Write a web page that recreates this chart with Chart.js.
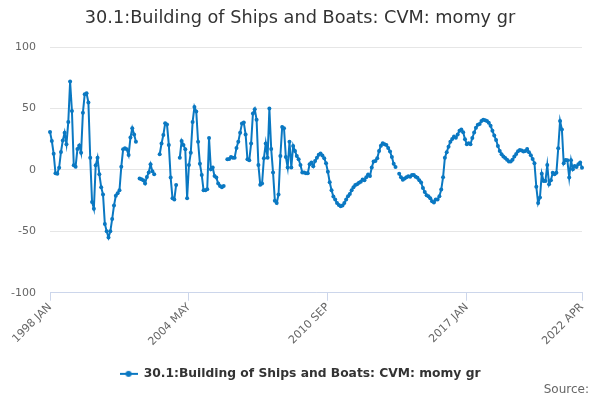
<!DOCTYPE html>
<html><head><meta charset="utf-8">
<script src="https://cdn.jsdelivr.net/npm/chart.js@4.4.1/dist/chart.umd.min.js"></script>
<style>html,body{margin:0;padding:0;background:#fff}</style>
</head><body>
<canvas id="c" width="600" height="400"></canvas>
<script>
const TITLE = '30.1:Building of Ships and Boats: CVM: momy gr';
const SERIES_NAME = '30.1:Building of Ships and Boats: CVM: momy gr';
const SOURCE_TEXT = 'Source:';
const START_YEAR = 1998;
const MONTH_NAMES = ['JAN','FEB','MAR','APR','MAY','JUN','JUL','AUG','SEP','OCT','NOV','DEC'];
const N_MONTHS = 292; // 1998 JAN .. 2022 APR
const categories = [];
for (let i = 0; i < N_MONTHS; i++) categories.push((START_YEAR + Math.floor(i / 12)) + ' ' + MONTH_NAMES[i % 12]);

const values = [
  31, 23.6, 13.3, -2.7, -3, 1.9, 14.7, 24, 30.4, 21, 39, 72,          // 1998
  48, 3.8, 2.7, 17, 20, 14, 46.7, 61.7, 62.5, 55, 10, -26,            // 1999
  -31.5, 3.8, 10, -3.5, -14, -20, -44, -50, -55, -50, -40, -29,       // 2000
  -21, -19, -16.6, 2.7, 16.8, 17.7, 16.8, 12.2, 26.4, 34, 29, 23,     // 2001
  null, -7, -7.6, -8.4, -11, -5.7, -2, 4.6, -1, -3.5, null, null,     // 2002
  12.8, 21.5, 28.5, 38, 37, 20.4, -6.2, -23, -24, -12.2, null, 10,    // 2003
  23.6, 20.4, 16.8, -23, 4, 14, 39, 51.4, 47.6, 23, 5, -4,            // 2004
  -16.6, -16.6, -15.7, 26, 0.5, 2, -5, -6.2, -11, -13, -14, -13,      // 2005
  null, 8.8, 9, 10.6, 10, 10, 18, 23, 30.4, 37.8, 38.6, 29,           // 2006
  8.7, 7.9, 21.5, 46, 49.5, 41, 4, -12, -11, 9.5, 21.5, 10,           // 2007
  50, 17, -2, -25, -27, -20, 11.4, 35, 34, 10.6, 2, 23,               // 2008
  2, 19.6, 15.5, 11.4, 8.7, 4, -2, -2, -2.7, -2.7, 4.6, 6,            // 2009
  3, 7.4, 10, 12.4, 13.5, 11.8, 9.5, 5.5, -1.5, -10, -16.5, -21.7,    // 2010
  -24, -27, -28.5, -29.5, -29, -27, -24, -21.5, -19.5, -16.5, -14, -12.2, // 2011
  -11.6, -10.4, -9.6, -7.8, -8.3, -6, -3.6, -5, 2, 7, 7.4, 9.5,       // 2012
  15.5, 19.8, 21.7, 21, 20.3, 17.9, 15, 10.5, 5, 2.5, null, -3,       // 2013
  -6, -8, -7, -6, -5.2, -5.5, -4.2, -4, -5.5, -6.3, -8.3, -10.3,      // 2014
  -14.6, -18, -20.5, -21.5, -23, -25.5, -26.5, -24, -24, -21.4, -16, -6, // 2015
  10, 14.5, 19, 23, 25.3, 27.2, 26.2, 29, 32, 33, 30.8, 25,           // 2016
  21, 21.7, 21, 26, 30.5, 34.5, 36.8, 37.4, 40, 41, 40.5, 40,         // 2017
  38.5, 36, 32, 28, 24.5, 19.5, 15.5, 12.8, 11, 9.8, 8.3, 7,          // 2018
  6.9, 8.3, 11, 13, 15.3, 16.2, 15.8, 15, 15.5, 17, 14.5, 12,         // 2019
  9, 5.5, -13.6, -27, -22.5, -3, -9, -9, 4, -11.7, -8.4, -2.2,        // 2020
  -3.5, -2.2, 17.7, 40, 33, 5.4, 8.2, 7.9, -6.2, 7.9, 0.5, 3.3,       // 2021
  2.4, 4.6, 6, 1.9                                                    // 2022
];

const xTickLabels = ['1998 JAN', '2004 MAY', '2010 SEP', '2017 JAN', '2022 APR'];
const yTickValues = [-100, -50, 0, 50, 100];

const LINE_COLOR = '#0a78c2';
const FONT = "'DejaVu Sans', sans-serif";

// legend marker: short line with a dot
const marker = document.createElement('canvas');
marker.width = 18; marker.height = 10;
(function () {
  const g = marker.getContext('2d');
  g.strokeStyle = LINE_COLOR; g.lineWidth = 2;
  g.beginPath(); g.moveTo(0, 5); g.lineTo(18, 5); g.stroke();
  g.fillStyle = LINE_COLOR; g.beginPath(); g.arc(9, 5, 3, 0, Math.PI * 2); g.fill();
})();

const sourcePlugin = {
  id: 'sourceText',
  afterDraw(chart) {
    const c = chart.ctx;
    c.save();
    c.font = "12px " + FONT;
    c.fillStyle = '#666666';
    c.textAlign = 'right';
    c.textBaseline = 'middle';
    c.fillText(SOURCE_TEXT, 589, 390);
    c.restore();
  }
};

new Chart(document.getElementById('c'), {
  type: 'line',
  data: {
    labels: categories,
    datasets: [{
      label: SERIES_NAME,
      data: values,
      borderColor: LINE_COLOR,
      backgroundColor: LINE_COLOR,
      borderWidth: 2,
      pointRadius: 2,
      pointBorderWidth: 0,
      pointHoverRadius: 3,
      tension: 0,
      spanGaps: false,
      fill: false,
      yAxisID: 'y'
    }]
  },
  options: {
    responsive: false,
    animation: false,
    devicePixelRatio: 1,
    layout: { padding: { left: 0, right: 0, top: 0, bottom: 10 } },
    plugins: {
      title: {
        display: true,
        text: TITLE,
        color: '#333333',
        font: { family: FONT, size: 17.7, weight: 'normal' },
        padding: { top: 8, bottom: 18 }
      },
      legend: {
        display: true,
        position: 'bottom',
        labels: {
          color: '#333333',
          font: { family: FONT, size: 12.3, weight: 'bold' },
          usePointStyle: true,
          pointStyleWidth: 18,
          padding: 10,
          generateLabels(chart) {
            return chart.data.datasets.map((ds, i) => ({
              text: ds.label, pointStyle: marker, fillStyle: LINE_COLOR,
              strokeStyle: LINE_COLOR, lineWidth: 0, hidden: false, datasetIndex: i, fontColor: '#333333'
            }));
          }
        }
      },
      tooltip: { enabled: false }
    },
    scales: {
      x: {
        type: 'category',
        offset: false,
        afterFit(scale) { scale.height = 65; },
        grid: { display: true, drawOnChartArea: false, drawTicks: true, tickLength: 8, color: '#ccd6eb' },
        border: { display: true, color: '#ccd6eb', width: 1 },
        ticks: {
          autoSkip: false,
          maxRotation: 45,
          minRotation: 45,
          padding: 0,
          color: '#666666',
          font: { family: FONT, size: 11 },
          callback(value, index) {
            const lab = categories[index];
            return xTickLabels.includes(lab) ? lab : null;
          }
        }
      },
      y: {
        min: -100,
        max: 100,
        afterFit(scale) { scale.width = 50; },
        afterBuildTicks(scale) { scale.ticks = yTickValues.map(v => ({ value: v })); },
        grid: { color: '#e6e6e6', drawTicks: false, lineWidth: 1 },
        border: { display: false },
        ticks: {
          padding: 14,
          color: '#666666',
          font: { family: FONT, size: 11 }
        }
      },
      yRight: {
        position: 'right',
        min: -100,
        max: 100,
        afterFit(scale) { scale.width = 18; },
        grid: { display: false, drawTicks: false },
        border: { display: false },
        ticks: { display: false }
      }
    }
  },
  plugins: [sourcePlugin]
});
</script>
</body></html>
